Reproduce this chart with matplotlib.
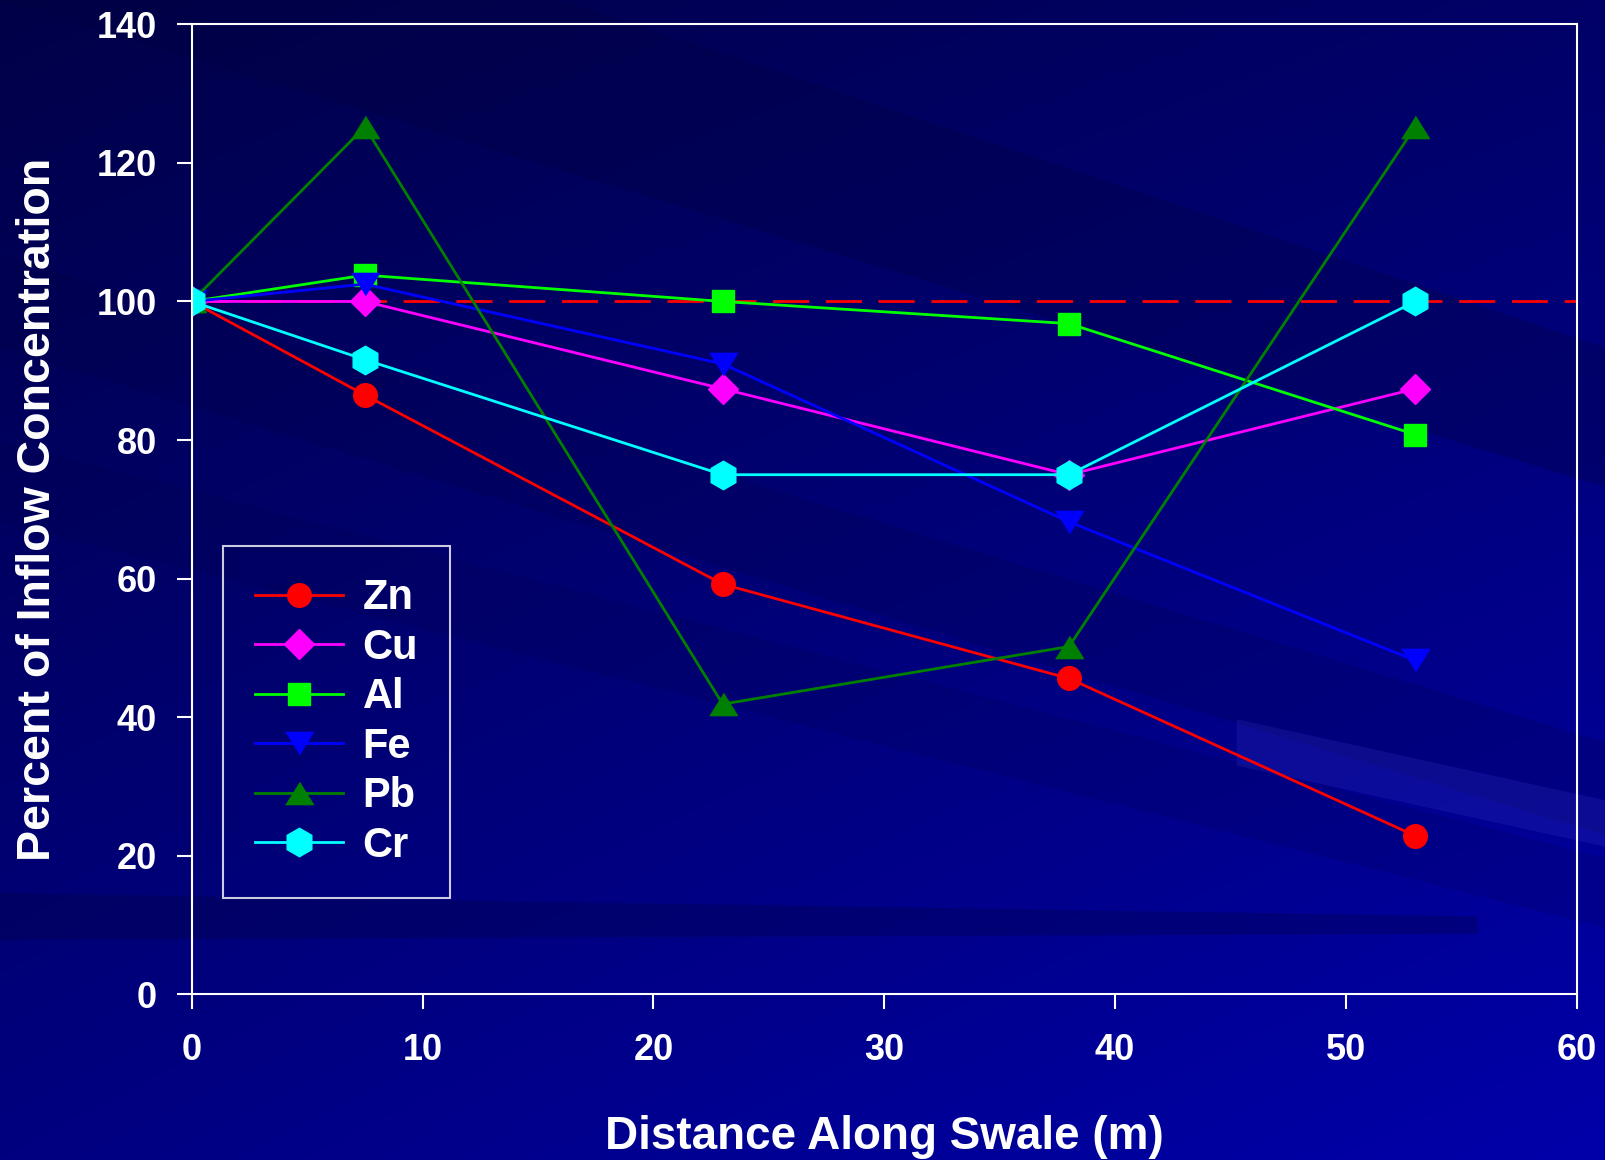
import numpy as np
import matplotlib.pyplot as plt
from matplotlib.patches import Polygon

# Percent of inflow concentration along the swale
distance = [0, 7.5, 23, 38, 53]
zn = [100, 86.5, 59.2, 45.6, 22.9]
cu = [100, 100, 87.4, 75.0, 87.4]
al = [100, 103.8, 100, 96.8, 80.8]
fe = [100, 102.5, 91.0, 68.2, 48.2]
pb = [100, 125.2, 41.9, 50.2, 125.2]
cr = [100, 91.6, 75.0, 75.0, 100]

plt.rcParams['font.family'] = ['Liberation Sans', 'DejaVu Sans']
plt.rcParams['font.weight'] = 'bold'

fig = plt.figure(figsize=(16.06, 11.6), dpi=100)

# dark blue slide background
bg = fig.add_axes([0, 0, 1, 1], zorder=-2)
gx, gy = np.meshgrid(np.linspace(0, 1, 400), np.linspace(0, 1, 300))
blue = 72 + 32 * gx + 56 * gy + 10 * gx * gy
img = np.zeros((300, 400, 3))
img[..., 2] = blue / 255.0
bg.imshow(img, aspect='auto', extent=[0, 1, 1, 0])
streaks = [
    ([(0.0, 0.0), (0.35, 0.0), (1.0, 0.30), (1.0, 0.42)], '#000040', 0.3),
    ([(0.0, 0.22), (0.0, 0.30), (1.0, 0.72), (1.0, 0.64)], '#000040', 0.2),
    ([(0.0, 0.38), (0.0, 0.45), (1.0, 0.80), (1.0, 0.74)], '#000040', 0.15),
    ([(0.77, 0.62), (0.77, 0.66), (1.0, 0.73), (1.0, 0.69)], '#3030c0', 0.25),
    ([(0.0, 0.77), (0.0, 0.81), (0.92, 0.805), (0.92, 0.79)], '#000040', 0.3),
]
for pts, c, a in streaks:
    bg.add_patch(Polygon(pts, closed=True, facecolor=c, edgecolor='none', alpha=a))
bg.set_xlim(0, 1)
bg.set_ylim(1, 0)
bg.axis('off')

ax = fig.add_axes([0.1194, 0.1427, 0.8624, 0.8364])
ax.set_facecolor('none')

ax.axhline(100, color='#ff0000', lw=2, dashes=(13, 6), zorder=1)

tri_down = [(-1, 0.8), (1, 0.8), (0, -0.8)]
tri_up = [(-1, -0.8), (1, -0.8), (0, 0.8)]
ax.plot(distance, zn, color='#ff0000', lw=2, marker='o', ms=17, label='Zn')
ax.plot(distance, cu, color='#ff00ff', lw=2, marker='D', ms=15.5, label='Cu')
ax.plot(distance, al, color='#00ff00', lw=2, marker='s', ms=16.5, label='Al')
ax.plot(distance, fe, color='#0000ff', lw=2, marker=tri_down, ms=20, label='Fe')
ax.plot(distance, pb, color='#008000', lw=2, marker=tri_up, ms=20, label='Pb')
ax.plot(distance, cr, color='#00ffff', lw=2, marker='h', ms=20.5, label='Cr')

ax.set_xlim(0, 60)
ax.set_ylim(0, 140)
ax.set_xticks(range(0, 61, 10))
ax.set_yticks(range(0, 141, 20))
for s in ax.spines.values():
    s.set_color('white')
    s.set_linewidth(1.5)
ax.tick_params(axis='x', direction='out', length=11, width=1.5, colors='white',
               labelsize=26, pad=17)
ax.tick_params(axis='y', direction='out', length=11, width=1.5, colors='white',
               labelsize=26, pad=14)

ax.set_xlabel('Distance Along Swale (m)', color='white', fontsize=33, fontweight='bold')
ax.set_ylabel('Percent of Inflow Concentration', color='white', fontsize=33.5, fontweight='bold')
ax.xaxis.set_label_coords(0.5, -0.159)
ax.xaxis.label.set_va('baseline')
ax.yaxis.set_label_coords(-0.111, 0.5)
ax.yaxis.label.set_va('center')

leg = ax.legend(loc='upper left', bbox_to_anchor=(0.0228, 0.4618), fontsize=30,
                frameon=True, fancybox=False, numpoints=1, handlelength=2.1,
                handletextpad=0.48, labelspacing=0.23, borderpad=0.76,
                borderaxespad=0)
leg.get_frame().set_facecolor('none')
leg.get_frame().set_edgecolor('white')
leg.get_frame().set_linewidth(1.5)
for t in leg.get_texts():
    t.set_color('white')

fig.savefig('out.png', dpi=100)
